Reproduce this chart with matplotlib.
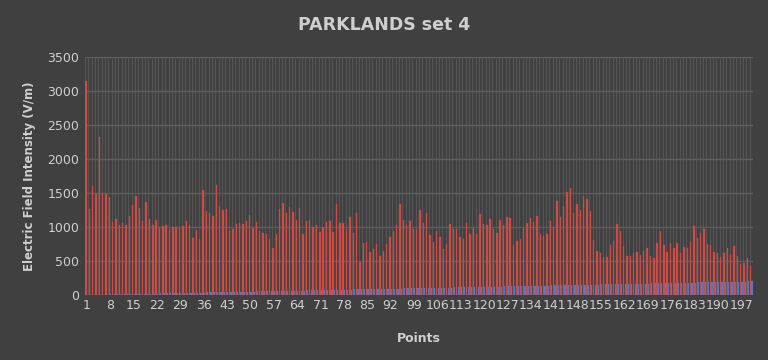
import numpy as np
import matplotlib
matplotlib.use("Agg")
import matplotlib.pyplot as plt

points = list(range(1, 201))
field_values = [
    3150, 1262, 1602, 1492, 2330, 1494, 1482, 1438, 1070, 1115,
    1029, 1058, 1032, 1163, 1323, 1458, 1286, 1088, 1375, 1122,
    1024, 1105, 998, 1016, 1026, 972, 1006, 1002, 990, 1009,
    1095, 1024, 840, 952, 825, 1543, 1228, 1205, 1166, 1625,
    1305, 1248, 1264, 946, 970, 1039, 1058, 1044, 1093, 1176,
    992, 1070, 944, 916, 895, 823, 688, 897, 1264, 1355,
    1208, 1296, 1218, 1105, 1286, 897, 1090, 1110, 1000, 1026,
    931, 1004, 1075, 1083, 931, 1338, 1058, 1058, 975, 1154,
    911, 1200, 492, 762, 776, 630, 671, 752, 575, 642,
    757, 855, 948, 1026, 1338, 1102, 1024, 1083, 965, 965,
    1245, 1058, 1200, 877, 779, 936, 860, 676, 745, 1042,
    970, 970, 853, 820, 1065, 895, 988, 900, 1190, 1050,
    1032, 1125, 970, 914, 1102, 1034, 1154, 1137, 742, 794,
    823, 990, 1058, 1137, 1070, 1158, 900, 870, 897, 1088,
    993, 1382, 1145, 1313, 1509, 1573, 1205, 1338, 1250, 1458,
    1410, 1240, 806, 652, 615, 556, 552, 740, 794, 1044,
    934, 720, 573, 573, 617, 635, 593, 647, 691, 575,
    547, 772, 941, 732, 632, 760, 688, 762, 617, 706,
    688, 776, 1012, 835, 911, 968, 745, 735, 630, 613,
    556, 625, 691, 600, 718, 568, 456, 475, 551, 428,
]
point_series = points[:]  # second series: the point number itself
tick_points = list(range(1, 201, 7))
y_ticks = list(range(0, 3501, 500))

bg = "#404040"
txt = "#cfcfcf"
fig = plt.figure(figsize=(7.68, 3.6), dpi=100, facecolor=bg)
ax = fig.add_axes([85/768, 1-295/360, (753-85)/768, (295-57)/360], facecolor=bg)

x = np.array(points)
ax.bar(x - 0.2, field_values, width=0.42, color="#cf4b46", edgecolor="#cf4b46",
       linewidth=0.2, zorder=3)
ax.bar(x + 0.22, point_series, width=0.34, color="#5a78be", edgecolor="#5a78be",
       linewidth=0.2, zorder=3)

ax.set_xlim(0.5, 200.5)
ax.set_ylim(0, 3500)
ax.set_yticks(y_ticks)
ax.set_xticks(tick_points)
ax.set_xticks(np.arange(0.5, 201, 1), minor=True)
ax.grid(axis="y", which="major", color="#5e5e5e", linewidth=1.0, zorder=0)
ax.grid(axis="x", which="minor", color="#555555", linewidth=0.8, zorder=0)
ax.tick_params(axis="both", which="both", length=0, colors=txt, labelsize=9)
ax.tick_params(axis="x", pad=3)
ax.tick_params(axis="y", pad=4)
for s in ax.spines.values():
    s.set_visible(False)

fig.text(0.5, 1-25/360, "PARKLANDS set 4", ha="center", va="center",
         fontsize=12.5, fontweight="bold", color=txt)
ax.set_xlabel("Points", fontsize=9, fontweight="bold", color=txt, labelpad=14)
ax.set_ylabel("Electric Field Intensity (V/m)", fontsize=8.5, fontweight="bold",
              color=txt, labelpad=8)

fig.savefig("out.png", dpi=100, facecolor=bg)
